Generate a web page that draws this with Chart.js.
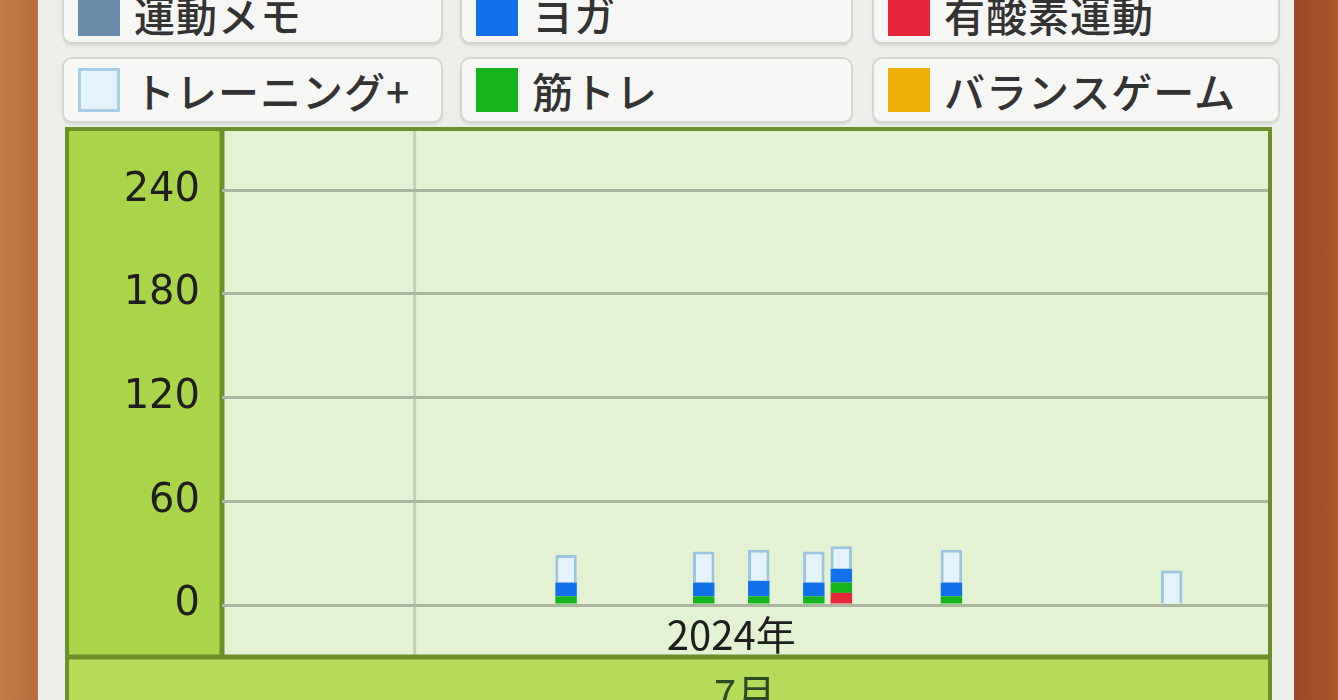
<!DOCTYPE html>
<html lang="ja">
<head>
<meta charset="utf-8">
<title>運動記録</title>
<script src="https://cdn.jsdelivr.net/npm/chart.js@4.4.1/dist/chart.umd.min.js"></script>
<style>
  html, body { margin: 0; padding: 0; }
  body {
    width: 1338px; height: 700px; overflow: hidden; position: relative;
    background: linear-gradient(90deg, #c47c4a 0, #b76a3c 40px, #9c4828 1294px, #a9582f 1338px);
    font-family: "Noto Sans CJK JP", sans-serif;
  }
  #bezel { position: absolute; left: 38px; top: 0; width: 1256px; height: 700px; background: #eceee9; }
  .key {
    position: absolute; box-sizing: border-box; display: flex; align-items: center;
    background: #f6f6f4; border: 2px solid #d4d7d0; border-radius: 10px;
    box-shadow: 0 2px 2px rgba(0, 0, 0, 0.08);
  }
  .key .sw { width: 42px; height: 44px; margin: 0 14px 0 14px; box-sizing: border-box; }
  .key span { font-size: 41px; color: #333; font-weight: 500; letter-spacing: 1px; }
  #panel {
    position: absolute; left: 65px; top: 127px; width: 1207px; height: 580px;
    box-sizing: border-box; border: 4px solid #6d8f2a; border-bottom: none;
  }
  #wrap { position: absolute; left: 0; top: 0; width: 1199px; height: 569px; }
</style>
</head>
<body>
<div id="bezel"></div>
<div id="legend"></div>
<div id="panel"><div id="wrap"><canvas id="chart"></canvas></div></div>
<script>
// days shown on the axis: 6/24 .. 7/31
const days = []
for (let d = 24; d <= 30; d++) days.push('6/' + d)
for (let d = 1; d <= 31; d++) days.push('7/' + d)

const monthStart = '7/1'
const yearLabel = '2024年'
const yearLabelAt = '7/12'
const monthLabel = '7月'
const yTicks = [0, 60, 120, 180, 240]
const yMax = 272

// minutes per session day
const sessionDays  = ['7/6', '7/11', '7/13', '7/15', '7/16', '7/20', '7/28']
const aerobic      = [0, 0, 0, 0, 7, 0, 0]
const strength     = [5, 5, 5, 5, 6, 5, 0]
const yoga         = [8, 8, 9, 8, 8, 8, 0]
const trainingPlus = [16, 18, 18, 18, 13, 19, 20]
const balance      = [0, 0, 0, 0, 0, 0, 0]
const memo         = [0, 0, 0, 0, 0, 0, 0]

const legendOrder = ['運動メモ', 'ヨガ', '有酸素運動', 'トレーニング+', '筋トレ', 'バランスゲーム']

const colors = {
  '運動メモ': '#6a8cab',
  'ヨガ': '#1270ea',
  '有酸素運動': '#e6263a',
  'トレーニング+': '#e3f2fb',
  '筋トレ': '#14b41c',
  'バランスゲーム': '#eeaf06'
}

// bottom to top
const stackOrder = [
  ['有酸素運動', aerobic],
  ['筋トレ', strength],
  ['ヨガ', yoga],
  ['トレーニング+', trainingPlus],
  ['バランスゲーム', balance],
  ['運動メモ', memo]
]

const datasets = stackOrder.map(([name, values]) => {
  const outlined = name === 'トレーニング+'
  return {
    label: name,
    data: sessionDays.map((d, i) => ({ x: d, y: values[i] })),
    backgroundColor: colors[name],
    borderColor: outlined ? '#9cc5e2' : colors[name],
    borderWidth: outlined ? 3 : 0,
    borderSkipped: 'bottom',
    barPercentage: 0.78,
    categoryPercentage: 1.0
  }
})

// html legend, 3 columns x 2 rows
const cols = [[62, 381], [460, 393], [872, 408]]
const rows = [[-16, 60], [57, 66]]
const legendEl = document.getElementById('legend')
legendOrder.forEach((name, i) => {
  const [left, width] = cols[i % 3]
  const [top, height] = rows[Math.floor(i / 3)]
  const box = document.createElement('div')
  box.className = 'key'
  box.style.cssText = `left:${left}px;top:${top}px;width:${width}px;height:${height}px;`
  const sw = document.createElement('div')
  sw.className = 'sw'
  sw.style.background = colors[name]
  if (name === 'トレーニング+') sw.style.border = '3px solid #a9cfe8'
  const label = document.createElement('span')
  label.textContent = name
  box.appendChild(sw)
  box.appendChild(label)
  legendEl.appendChild(box)
})

const panelPaint = {
  id: 'panelPaint',
  beforeDraw(chart) {
    const { ctx, chartArea: a, width, height } = chart
    const bandTop = a.bottom + 52
    const x = chart.scales.x
    const start = days.indexOf(monthStart)
    const dx = (x.getPixelForTick(start - 1) + x.getPixelForTick(start)) / 2
    ctx.save()
    ctx.fillStyle = '#b5db58'
    ctx.fillRect(0, 0, width, height)
    ctx.fillStyle = '#aad449'
    ctx.fillRect(0, 0, a.left, bandTop)
    ctx.fillStyle = '#e3f2d3'
    ctx.fillRect(a.left, 0, width - a.left, bandTop)
    ctx.strokeStyle = '#c4cfb8'
    ctx.lineWidth = 3
    ctx.beginPath()
    ctx.moveTo(dx, 0)
    ctx.lineTo(dx, bandTop)
    ctx.stroke()
    ctx.strokeStyle = '#6d8f2a'
    ctx.lineWidth = 5
    ctx.beginPath()
    ctx.moveTo(a.left, 0)
    ctx.lineTo(a.left, bandTop)
    ctx.moveTo(0, bandTop)
    ctx.lineTo(width, bandTop)
    ctx.stroke()
    ctx.restore()
  }
}

Chart.defaults.font.family = '"Noto Sans CJK JP", "DejaVu Sans", sans-serif'

new Chart(document.getElementById('chart'), {
  type: 'bar',
  data: { labels: days, datasets: datasets },
  options: {
    responsive: true,
    maintainAspectRatio: false,
    animation: false,
    events: [],
    layout: { padding: { top: 4, left: 0, right: 0, bottom: 0 } },
    plugins: {
      legend: { display: false },
      tooltip: { enabled: false }
    },
    scales: {
      x: {
        stacked: true,
        grid: { display: false, drawTicks: false },
        border: { display: false },
        ticks: {
          autoSkip: false,
          maxRotation: 0,
          padding: 6,
          color: '#1e1e1e',
          font: { size: 40 },
          callback: function (value, index) {
            return days[index] === yearLabelAt ? yearLabel : ''
          }
        },
        title: {
          display: true,
          text: monthLabel,
          color: '#2c4a28',
          font: { size: 40 },
          padding: { top: 0, bottom: -18 }
        },
        afterFit: function (scale) {
          scale.height = 95
          scale.paddingLeft = 0
          scale.paddingRight = 0
        }
      },
      y: {
        stacked: true,
        min: 0,
        max: yMax,
        grid: { color: '#aab79e', lineWidth: 3, drawTicks: false },
        border: { display: false },
        ticks: {
          padding: 22,
          color: '#1e1e1e',
          font: { family: '"DejaVu Sans", sans-serif', size: 40 }
        },
        afterBuildTicks: function (scale) {
          scale.ticks = yTicks.map(v => ({ value: v }))
        },
        afterFit: function (scale) {
          scale.width = 153
          scale.paddingTop = 0
          scale.paddingBottom = 0
        }
      }
    }
  },
  plugins: [panelPaint]
})
</script>
</body>
</html>
